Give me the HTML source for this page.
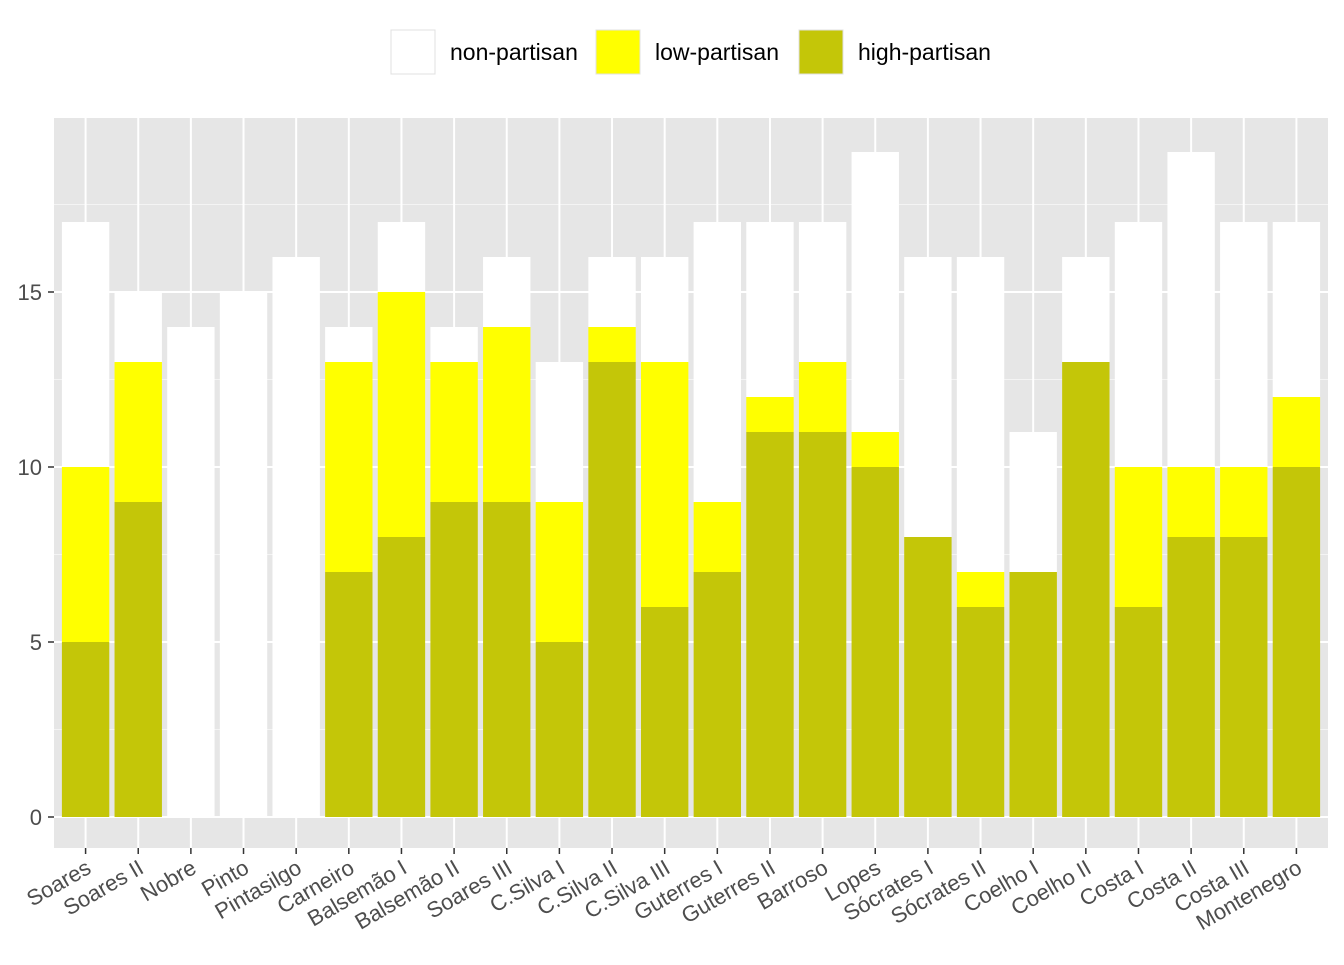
<!DOCTYPE html>
<html><head><meta charset="utf-8"><style>
body{margin:0;background:#fff;font-family:"Liberation Sans",Arial,sans-serif}
</style></head><body>
<svg id="chart" width="1344" height="960" xmlns="http://www.w3.org/2000/svg" font-family="Liberation Sans, Arial, sans-serif">
<g>
<rect x="391" y="30" width="44" height="44" fill="#fff" stroke="#e0e0e0"/>
<text x="450" y="60" font-size="23" fill="#000">non-partisan</text>
<rect x="596" y="30" width="44" height="44" fill="#ffff00" stroke="#e0e0e0"/>
<text x="655" y="60" font-size="23" fill="#000">low-partisan</text>
<rect x="799" y="30" width="44" height="44" fill="#c4c608" stroke="#e0e0e0"/>
<text x="858" y="60" font-size="23" fill="#000">high-partisan</text>
</g>
<rect x="54" y="118" width="1274" height="730" fill="#e6e6e6"/>
<g id="grid"></g><g id="bars"></g><g id="axes"></g>
</svg>
<script>
const categories=["Soares","Soares II","Nobre","Pinto","Pintasilgo","Carneiro","Balsemão I","Balsemão II","Soares III","C.Silva I","C.Silva II","C.Silva III","Guterres I","Guterres II","Barroso","Lopes","Sócrates I","Sócrates II","Coelho I","Coelho II","Costa I","Costa II","Costa III","Montenegro"];
const highPartisan=[5,9,0,0,0,7,8,9,9,5,13,6,7,11,11,10,8,6,7,13,6,8,8,10];
const lowPartisan=[5,4,0,0,0,6,7,4,5,4,1,7,2,1,2,1,0,1,0,0,4,2,2,2];
const nonPartisan=[7,2,14,15,16,1,2,1,2,4,2,3,8,5,4,8,8,9,4,3,7,9,7,5];
const yTicks=[0,5,10,15];
const yMinor=[2.5,7.5,12.5,17.5];
const NS="http://www.w3.org/2000/svg";
const px0=54,pw=1274,unit=pw/(categories.length-1+1.2);
const xs=i=>px0+(0.6+i)*unit;
const ys=v=>817-v*35;
function mk(t,a,p){const e=document.createElementNS(NS,t);for(const k in a)e.setAttribute(k,a[k]);p.appendChild(e);return e;}
const grid=document.getElementById('grid'),bars=document.getElementById('bars'),axes=document.getElementById('axes');
yMinor.forEach(v=>{const l=mk('line',{x1:54,x2:1328,y1:ys(v),y2:ys(v),stroke:'#f4f4f4','stroke-width':1},grid);

});
yTicks.forEach(v=>{const l=mk('line',{x1:54,x2:1328,y1:ys(v),y2:ys(v),stroke:'#fff','stroke-width':2},grid);


mk('line',{x1:48,x2:54,y1:ys(v),y2:ys(v),stroke:'#333','stroke-width':1.5},axes);
const t=mk('text',{x:42,y:ys(v)+8,'text-anchor':'end','font-size':22,fill:'#4d4d4d'},axes);t.textContent=v;

});
const bw=unit*0.9;
categories.forEach((c,i)=>{const x=xs(i);
const g=mk('line',{x1:x,x2:x,y1:118,y2:848,stroke:'#fff','stroke-width':2},grid);


const h=highPartisan[i],lo=lowPartisan[i],n=nonPartisan[i];
const segs=[[0,h,'#c4c608','high'],[h,h+lo,'#ffff00','low'],[h+lo,h+lo+n,'#ffffff','non']];
segs.forEach(s=>{if(s[1]<=s[0])return;const r=mk('rect',{x:x-bw/2,y:ys(s[1]),width:bw,height:ys(s[0])-ys(s[1]),fill:s[2]},bars);

});
mk('line',{x1:x,x2:x,y1:848,y2:854,stroke:'#333','stroke-width':1.5},axes);
const t=mk('text',{x:x+7,y:872,'text-anchor':'end','font-size':22,fill:'#4d4d4d',transform:`rotate(-30 ${x+7} 872)`},axes);t.textContent=c;

});
</script>
</body></html>
